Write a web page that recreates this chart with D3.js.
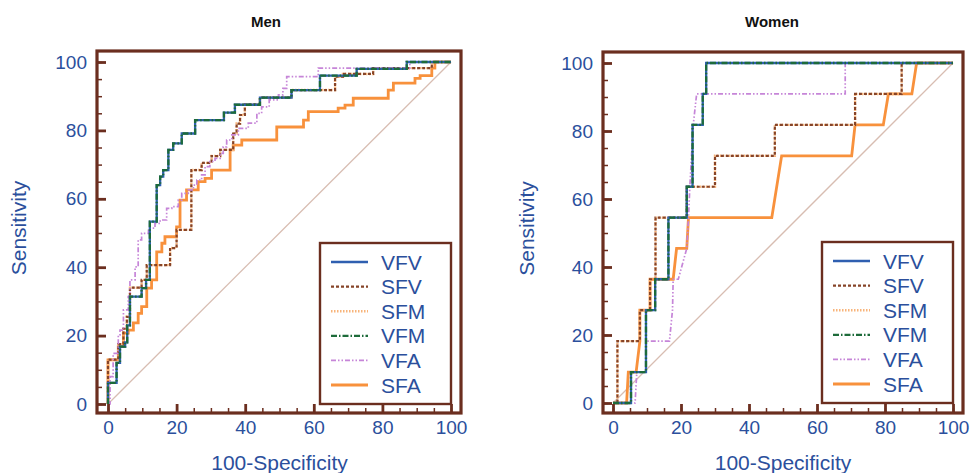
<!DOCTYPE html>
<html>
<head>
<meta charset="utf-8">
<script src="https://cdn.jsdelivr.net/npm/d3@7"></script>
<style>
  body { margin: 0; background: #fff; }
  svg { display: block; }
  text { font-family: Arial, "Liberation Sans", sans-serif; }
</style>
</head>
<body>
<svg id="chart" width="971" height="473"></svg>
<script>
'use strict';

/* ROC curves, men vs women — six fat-area indices */

const SERIES  = ['VFV', 'SFV', 'SFM', 'VFM', 'VFA', 'SFA'];
const X_TICKS = [0, 20, 40, 60, 80, 100];
const Y_TICKS = [0, 20, 40, 60, 80, 100];
const X_TITLE = '100-Specificity';
const Y_TITLE = 'Sensitivity';

// Men: staircase corners [100-specificity, sensitivity] (drawn step-after)
const MEN_VFV = [[0,0],[0,6.2],[2.5,12],[3.5,16.8],[5,18],[5.6,23],[6.4,31.4],[9.8,33.9],[11.1,36.3],[12.2,53.3],[14.2,64],[15.2,66.5],[16.1,68.4],[17.6,74.3],[19,76.2],[21.5,79.1],[25.4,83],[33.8,85.2],[37,87.5],[44.3,89.6],[53.5,91.8],[61.8,96],[72.5,98],[87.1,100],[100,100]];
const MEN_VFM = [[0,0],[0,6.2],[2.5,12],[3.5,16.8],[5,18],[5.6,23],[6.4,31.4],[9.8,33.9],[11.1,36.3],[12.2,53.3],[14.2,64],[15.2,66.5],[16.1,68.4],[17.6,74.3],[19,76.2],[21.5,79.1],[25.4,83],[33.8,85.2],[37,87.5],[44.3,89.6],[53.5,91.8],[61.8,96],[72.5,98],[87.1,100],[100,100]];
const MEN_SFV = [[0,0],[0,13],[3,17.5],[4.5,22],[5.5,25.5],[6.4,34],[9.8,36.3],[11.3,40.6],[18.1,45.6],[20,50.9],[24.3,68.4],[27.3,70.5],[30.2,72.5],[32.7,74.3],[36.5,79.1],[37.5,82],[38.5,84.5],[39.9,87.6],[44.3,89.6],[53.5,91.8],[66.2,95.7],[68.5,96.5],[77.3,98.2],[94.4,100],[100,100]];
const MEN_SFM = [[0,0],[0,13],[3,17.5],[4.5,22],[5.5,25.5],[6.4,34],[9.8,36.3],[11.3,40.6],[18.1,45.6],[20,50.9],[24.3,68.4],[27.3,70.5],[30.2,72.5],[32.7,74.3],[36.5,79.1],[37.5,82],[38.5,84.5],[39.9,87.6],[44.3,89.6],[53.5,91.8],[66.2,95.7],[68.5,96.5],[77.3,98.2],[94.4,100],[100,100]];
const MEN_VFA = [[0,0],[0.6,8],[1.5,14.8],[3,20.2],[3.5,21.6],[4.5,27.5],[5.9,31.4],[6.4,36.3],[7.9,40.1],[8.8,48],[9.8,49.9],[11.8,51.4],[13.7,52.8],[15.2,53.8],[17.1,57.2],[18.6,57.7],[20.5,59.6],[21.5,61.6],[23.4,62.6],[24.9,64],[25.9,65.5],[27.3,67],[28.3,69.4],[29.7,70.9],[31.2,71.8],[32.7,73.3],[33.6,75.2],[34.6,77.2],[36.1,78.7],[38,80.6],[40.9,82.1],[43.4,85],[44.8,86.9],[47,88.9],[49.7,90.4],[51,92.3],[52.1,95.7],[61.3,98.2],[88,100],[100,100]];
const MEN_SFA = [[0,0],[0,12.9],[3,16.8],[4.5,20.7],[5.9,21.6],[7.4,23.7],[8.8,26.5],[9.8,28.5],[11.3,33.9],[12.7,36.3],[14.2,44.5],[15.7,47],[16.6,48.9],[20,51.8],[21,59.6],[22.9,62.6],[26.3,65],[28.3,66],[30.2,68.4],[35.6,74.3],[36.5,75.7],[39,77.2],[49.2,81],[57,83],[58.4,85.5],[67.1,86.5],[69.1,87.4],[71.5,89.4],[81.7,91.8],[83.2,93.8],[89.5,95.2],[91,96],[94.4,98.2],[95.3,100],[100,100]];

// Women: every vertex of the path (some ties give slanted segments)
const WOMEN_VFV = [[0,0],[5.3,0],[5.3,9.1],[9.7,9.1],[9.7,27.3],[12.4,27.3],[12.4,36.4],[16.3,36.4],[16.3,54.5],[21.7,54.5],[21.7,63.6],[23.4,63.6],[23.4,81.8],[26.4,81.8],[26.4,90.9],[27.4,90.9],[27.4,100],[100,100]];
const WOMEN_VFM = [[0,0],[5.3,0],[5.3,9.1],[9.7,9.1],[9.7,27.3],[12.4,27.3],[12.4,36.4],[16.3,36.4],[16.3,54.5],[21.7,54.5],[21.7,63.6],[23.4,63.6],[23.4,81.8],[26.4,81.8],[26.4,90.9],[27.4,90.9],[27.4,100],[100,100]];
const WOMEN_SFV = [[0,0],[1.3,0],[1.3,18.2],[7.9,18.2],[7.9,27.3],[10.9,27.3],[10.9,36.4],[12.5,36.4],[12.5,54.5],[21.7,54.5],[21.7,63.6],[30,63.6],[30,72.7],[47.6,72.7],[47.6,81.8],[71.2,81.8],[71.2,90.9],[84.9,90.9],[84.9,100],[100,100]];
const WOMEN_SFM = [[0,0],[1.3,0],[1.3,18.2],[7.9,18.2],[7.9,27.3],[10.9,27.3],[10.9,36.4],[12.5,36.4],[12.5,54.5],[21.7,54.5],[21.7,63.6],[30,63.6],[30,72.7],[47.6,72.7],[47.6,81.8],[71.2,81.8],[71.2,90.9],[84.9,90.9],[84.9,100],[100,100]];
const WOMEN_VFA = [[0,0],[6.5,0],[7,9.1],[9.7,9.1],[9.7,18.2],[16.6,18.2],[17.5,27.3],[17.7,36.4],[19.2,36.4],[21.7,45.5],[22.2,54.5],[22.6,63.6],[23.6,81.8],[24.6,90.9],[68.3,90.9],[68.3,100],[100,100]];
const WOMEN_SFA = [[0,0],[4,0],[4.5,9.1],[6.8,9.1],[7.9,18.2],[7.9,27.3],[10.9,27.3],[10.9,36.4],[17.7,36.4],[18.7,45.5],[21.7,45.5],[22.2,54.5],[46.7,54.5],[49.6,72.7],[70.2,72.7],[71.2,81.8],[79.5,81.8],[81,90.9],[87.9,90.9],[89.3,100],[100,100]];

const FRAME_COL = '#6b2e1f';
const LABEL_COL = '#2b4f9c';
const DIAG_COL  = '#d8bdb2';

const STYLE = {
  VFV: { color: '#2f5fb0', width: 2.3, dash: null },
  SFV: { color: '#864428', width: 2.2, dash: '3,2' },
  SFM: { color: '#f8b47a', width: 2.4, dash: '1.5,1.5' },
  VFM: { color: '#1d6b3a', width: 2.3, dash: '6,2,1.5,2' },
  VFA: { color: '#c685d8', width: 1.7, dash: '5,2,1.5,2,1.5,2' },
  SFA: { color: '#f8913c', width: 2.8, dash: null },
};
// drawn bottom → top, so green sits on blue and brown on light orange
const DRAW_ORDER = ['SFA', 'SFM', 'SFV', 'VFA', 'VFV', 'VFM'];

const PANELS = [
  {
    title: 'Men', titleX: 266, yTitleX: 19,
    frame: { x0: 97, x1: 461, y0: 51, y1: 413 },
    range: { x0: 108, x1: 451, y0: 404, y1: 62 },
    curve: d3.curveStepAfter,
    data: { VFV: MEN_VFV, SFV: MEN_SFV, SFM: MEN_SFM, VFM: MEN_VFM, VFA: MEN_VFA, SFA: MEN_SFA },
  },
  {
    title: 'Women', titleX: 772, yTitleX: 527,
    frame: { x0: 603, x1: 963, y0: 52, y1: 413 },
    range: { x0: 613, x1: 953, y0: 403, y1: 63 },
    curve: d3.curveLinear,
    data: { VFV: WOMEN_VFV, SFV: WOMEN_SFV, SFM: WOMEN_SFM, VFM: WOMEN_VFM, VFA: WOMEN_VFA, SFA: WOMEN_SFA },
  },
];

const svg = d3.select('#chart');

PANELS.forEach(p => {
  const x = d3.scaleLinear().domain([0, 100]).range([p.range.x0, p.range.x1]);
  const y = d3.scaleLinear().domain([0, 100]).range([p.range.y0, p.range.y1]);
  const f = p.frame;
  const g = svg.append('g');

  // title
  g.append('text')
    .attr('x', p.titleX).attr('y', 27)
    .attr('text-anchor', 'middle')
    .style('font-size', '15px').style('font-weight', 'bold')
    .attr('fill', '#111')
    .text(p.title);

  // reference diagonal
  g.append('line')
    .attr('x1', x(0)).attr('y1', y(0)).attr('x2', x(100)).attr('y2', y(100))
    .attr('stroke', DIAG_COL).attr('stroke-width', 1.3);

  // curves
  const line = d3.line().x(d => x(d[0])).y(d => y(d[1])).curve(p.curve);
  DRAW_ORDER.forEach(key => {
    const s = STYLE[key];
    g.append('path')
      .datum(p.data[key])
      .attr('d', line)
      .attr('fill', 'none')
      .attr('stroke', s.color)
      .attr('stroke-width', s.width)
      .attr('stroke-dasharray', s.dash)
      .attr('stroke-linejoin', 'miter');
  });

  // minor + major ticks pointing inward from the frame
  const styleAxis = (sel, w) => {
    sel.select('.domain').remove();
    sel.selectAll('line').attr('stroke', FRAME_COL).attr('stroke-width', w);
  };
  const minor = d3.range(0, 101, 5);

  g.append('g').attr('transform', `translate(${f.x0},0)`)
    .call(d3.axisLeft(y).tickValues(minor).tickSizeInner(-5).tickSizeOuter(0).tickFormat(''))
    .call(sel => styleAxis(sel, 1.5));
  g.append('g').attr('transform', `translate(0,${f.y1})`)
    .call(d3.axisBottom(x).tickValues(minor).tickSizeInner(-5).tickSizeOuter(0).tickFormat(''))
    .call(sel => styleAxis(sel, 1.5));

  const yAxis = g.append('g').attr('transform', `translate(${f.x0},0)`)
    .call(d3.axisLeft(y).tickValues(Y_TICKS).tickSizeInner(-9).tickSizeOuter(0).tickPadding(10))
    .call(sel => styleAxis(sel, 2.8));
  const xAxis = g.append('g').attr('transform', `translate(0,${f.y1})`)
    .call(d3.axisBottom(x).tickValues(X_TICKS).tickSizeInner(-9).tickSizeOuter(0).tickPadding(8))
    .call(sel => styleAxis(sel, 2.8));
  [yAxis, xAxis].forEach(a => a.selectAll('text')
    .attr('fill', LABEL_COL)
    .style('font-size', '19px')
    .style('font-family', 'Arial, "Liberation Sans", sans-serif'));

  // frame
  g.append('rect')
    .attr('x', f.x0).attr('y', f.y0)
    .attr('width', f.x1 - f.x0).attr('height', f.y1 - f.y0)
    .attr('fill', 'none').attr('stroke', FRAME_COL).attr('stroke-width', 3.2);

  // axis titles
  g.append('text')
    .attr('x', (x(0) + x(100)) / 2).attr('y', 470)
    .attr('text-anchor', 'middle')
    .attr('fill', LABEL_COL).style('font-size', '21px')
    .text(X_TITLE);
  g.append('text')
    .attr('transform', `translate(${p.yTitleX + 7},${(f.y0 + f.y1) / 2 - 4}) rotate(-90)`)
    .attr('text-anchor', 'middle')
    .attr('fill', LABEL_COL).style('font-size', '21px')
    .text(Y_TITLE);

  // legend, anchored at the lower-right corner of the data area
  const lw = 131, lh = 161;
  const lx = x(100) - lw, ly = y(0) - lh;
  const lg = g.append('g').attr('transform', `translate(${lx},${ly})`);
  lg.append('rect')
    .attr('width', lw).attr('height', lh)
    .attr('fill', '#fff').attr('stroke', FRAME_COL).attr('stroke-width', 2.4);
  SERIES.forEach((key, i) => {
    const s = STYLE[key];
    const cy = 19 + i * 24.6;
    lg.append('line')
      .attr('x1', 11).attr('x2', 48).attr('y1', cy).attr('y2', cy)
      .attr('stroke', s.color).attr('stroke-width', s.width)
      .attr('stroke-dasharray', s.dash);
    lg.append('text')
      .attr('x', 61).attr('y', cy).attr('dy', '0.36em')
      .attr('fill', LABEL_COL).style('font-size', '21px')
      .text(key);
  });
});
</script>
</body>
</html>
